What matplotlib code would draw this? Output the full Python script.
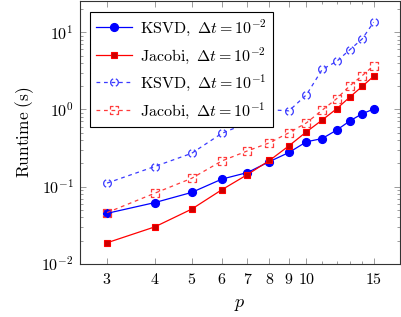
import matplotlib
matplotlib.use("Agg")
import matplotlib.pyplot as plt
import matplotlib.ticker as mticker
from matplotlib.path import Path
import numpy as np

plt.rcParams['mathtext.fontset'] = 'cm'
plt.rcParams['font.family'] = 'serif'
plt.rcParams['font.serif'] = ['DejaVu Serif']

# data
p = [3, 4, 5, 6, 7, 8, 9, 10, 11, 12, 13, 14, 15]
ksvd_small = [0.045, 0.062, 0.084, 0.125, 0.152, 0.211, 0.277, 0.381, 0.42, 0.54, 0.71, 0.88, 1.01]
jacobi_small = [0.0187, 0.030, 0.051, 0.091, 0.143, 0.218, 0.338, 0.513, 0.73, 1.02, 1.45, 1.99, 2.69]
ksvd_big = [0.111, 0.182, 0.27, 0.49, 0.67, 0.99, 0.96, 1.55, 3.3, 4.2, 5.96, 8.2, 13.5]
jacobi_big = [0.046, 0.082, 0.128, 0.215, 0.29, 0.37, 0.50, 0.67, 0.98, 1.38, 2.03, 2.74, 3.69]

xticks = [3, 4, 5, 6, 7, 8, 9, 10, 15]
xminor = [11, 12, 13, 14]


# broken outlines, like pgfplots marks drawn with a dash pattern
def arc(a0, a1, n=8):
    t = np.radians(np.linspace(a0, a1, n))
    return np.column_stack([np.cos(t), np.sin(t)])

def broken_path(pieces):
    verts, codes = [], []
    for seg in pieces:
        verts.extend(seg)
        codes.extend([Path.MOVETO] + [Path.LINETO] * (len(seg) - 1))
    return Path(np.array(verts), codes)

dash_circle = broken_path([arc(-70, 70), arc(110, 250)])
dash_square = broken_path([
    [(-1, 0.3), (-1, 1), (-0.2, 1)],
    [(0.3, 1), (1, 1), (1, 0.5)],
    [(1, -0.1), (1, -1), (0.4, -1)],
    [(-0.2, -1), (-1, -1), (-1, -0.6)],
])

fig = plt.figure(figsize=(4.01, 3.17), dpi=100)
ax = fig.add_axes([0.2007, 0.168, 0.797, 0.829])

ax.plot(p, ksvd_small, '-', color='blue', lw=0.9, marker='o', ms=5.6,
        mfc='blue', mec='blue', label=r'$\mathrm{KSVD},\ \Delta t = 10^{-2}$')
ax.plot(p, jacobi_small, '-', color='red', lw=0.9, marker='s', ms=5.0,
        mfc='#cc0000', mec='red', mew=0.8, label=r'$\mathrm{Jacobi},\ \Delta t = 10^{-2}$')
ax.plot(p, ksvd_big, color='#3a3aff', lw=0.9, dashes=(3, 3), marker=dash_circle, ms=5.5,
        mfc='none', mec='#3a3aff', mew=0.9, label=r'$\mathrm{KSVD},\ \Delta t = 10^{-1}$')
ax.plot(p, jacobi_big, color='#ff3a3a', lw=0.9, dashes=(3, 3), marker=dash_square, ms=5.5,
        mfc='none', mec='#ff3a3a', mew=0.9, label=r'$\mathrm{Jacobi},\ \Delta t = 10^{-1}$')

ax.set_xscale('log')
ax.set_yscale('log')
ax.set_xlim(2.556, 17.6)
ax.set_ylim(1e-2, 25.5)

ax.xaxis.set_major_locator(mticker.FixedLocator(xticks))
ax.xaxis.set_minor_locator(mticker.FixedLocator(xminor))
ax.xaxis.set_major_formatter(mticker.FixedFormatter([r'$%d$' % v for v in xticks]))
ax.xaxis.set_minor_formatter(mticker.NullFormatter())
ax.yaxis.set_major_locator(mticker.LogLocator(base=10, numticks=10))
ax.yaxis.set_minor_locator(mticker.LogLocator(base=10, subs=np.arange(2, 10), numticks=10))
ax.yaxis.set_major_formatter(mticker.FuncFormatter(lambda v, pos: r'$10^{%d}$' % round(np.log10(v))))

ax.tick_params(which='both', direction='in', top=True, right=True, color='0.55',
               width=0.6, labelsize=11.5, pad=5)
ax.tick_params(which='major', length=4.5)
ax.tick_params(which='minor', length=2.5)
for s in ax.spines.values():
    s.set_linewidth(0.8)
    s.set_color('0.2')

ax.set_xlabel(r'$p$', fontsize=13, labelpad=5)
ax.set_ylabel(r'$\mathrm{Runtime\ (s)}$', fontsize=12.5, labelpad=4)

leg = ax.legend(loc='upper left', fontsize=11.5, frameon=True, fancybox=False,
                edgecolor='black', framealpha=1, handlelength=2.3, borderpad=0.35,
                labelspacing=0.45, handletextpad=0.5, bbox_to_anchor=(0.0, 0.995),
                borderaxespad=0.6)
leg.get_frame().set_linewidth(0.8)

fig.savefig('out.png', dpi=100)
